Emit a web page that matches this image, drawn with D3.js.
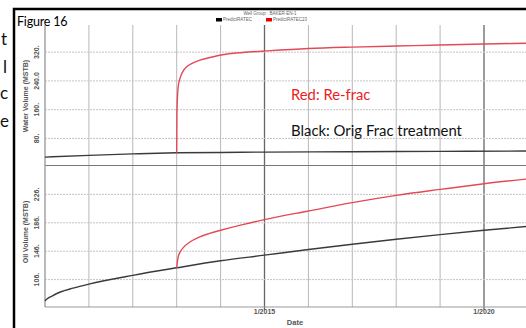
<!DOCTYPE html>
<html>
<head>
<meta charset="utf-8">
<script src="https://d3js.org/d3.v7.min.js"></script>
<style>
  body { margin: 0; background: #fff; }
  svg { display: block; }
</style>
</head>
<body>
<script>
var width = 526;
var height = 328;

// x grid, one line per year; the labelled ones are darker
var gridYears = [2010, 2011, 2012, 2013, 2014, 2015, 2016, 2017, 2018, 2019, 2020, 2021];
var dateTicks = [2015, 2020];
var dateLabels = ["1/2015", "1/2020"];

// water volume (MSTB)
var waterTicks = [80, 160, 240, 320];
var waterLabels = ["80.", "160.", "240.0", "320."];
var waterOrigT = [2010, 2011, 2012, 2013, 2014, 2015, 2017, 2019, 2021.1];
var waterOrigV = [28, 33, 37, 40, 41, 42, 43, 44, 45];
var waterRefracT = [2013, 2013.004, 2013.014, 2013.03, 2013.075, 2013.145, 2013.235, 2013.35, 2013.53, 2013.76, 2014.01, 2014.5, 2015, 2016, 2017, 2018, 2019, 2020, 2021.1];
var waterRefracV = [40, 140, 186, 220, 247, 267, 280, 289, 298, 305, 312, 319, 323, 330, 334, 337, 340, 342.5, 345];

// oil volume (MSTB)
var oilTicks = [106, 146, 186, 226];
var oilLabels = ["106.", "146.", "186.", "226."];
var oilOrigT = [2010, 2010.05, 2010.15, 2010.35, 2010.64, 2011, 2012, 2013, 2014, 2015, 2016, 2017, 2018, 2019, 2020, 2021.1];
var oilOrigV = [76, 79, 82.5, 88.5, 94, 99.7, 112, 122.6, 132.5, 140.4, 148.4, 155.8, 162.8, 169.4, 175.5, 181.5];
var oilRefracT = [2013, 2013.03, 2013.07, 2013.15, 2013.3, 2013.5, 2013.75, 2014, 2014.5, 2015, 2016, 2017, 2018, 2019, 2020, 2021.1];
var oilRefracV = [122.6, 137, 144, 151, 159, 165.5, 171, 175.5, 183.5, 190.5, 202.6, 214.4, 224.6, 233, 241, 248.5];

var left = 45, plotTop = 25, split = 165.5, bottom = 307;
var black = "#3a3a3a", red = "#e34a58";

var svg = d3.select("body").append("svg")
  .attr("width", width)
  .attr("height", height);

var x = d3.scaleLinear().domain([2010, 2021.1]).range([left, left + 11.1 * 43.9]);
var yWater = d3.scaleLinear().domain([4.7, 395.5]).range([split, plotTop]);
var yOil = d3.scaleLinear().domain([67.4, 266.7]).range([bottom, split]);

// vertical grid
svg.selectAll(".vgrid")
  .data(gridYears)
  .enter().append("line")
  .attr("x1", d => x(d)).attr("x2", d => x(d))
  .attr("y1", plotTop).attr("y2", d => dateTicks.indexOf(d) >= 0 ? bottom + 3 : bottom)
  .attr("stroke", d => dateTicks.indexOf(d) >= 0 ? "#666" : "#b8b8b8")
  .attr("stroke-width", d => dateTicks.indexOf(d) >= 0 ? 1.3 : 1);

// horizontal grid, dotted
function hgrid(ticks, y) {
  svg.append("g").selectAll("line")
    .data(ticks)
    .enter().append("line")
    .attr("x1", left).attr("x2", width)
    .attr("y1", d => y(d)).attr("y2", d => y(d))
    .attr("stroke", "#c4c4c4")
    .attr("stroke-dasharray", "2,1");
}
hgrid(waterTicks, yWater);
hgrid(oilTicks, yOil);

// panel frame lines
svg.append("line").attr("x1", left).attr("x2", width).attr("y1", split).attr("y2", split)
  .attr("stroke", "#777").attr("stroke-width", 1.2);
svg.append("line").attr("x1", left).attr("x2", width).attr("y1", bottom).attr("y2", bottom)
  .attr("stroke", "#999");
svg.append("line").attr("x1", left).attr("x2", left).attr("y1", plotTop).attr("y2", bottom)
  .attr("stroke", "#999");

function drawSeries(ts, vs, y, colour) {
  var pts = ts.map((t, i) => [t, vs[i]]);
  var line = d3.line()
    .x(d => x(d[0]))
    .y(d => y(d[1]))
    .curve(d3.curveMonotoneX);
  svg.append("path")
    .datum(pts)
    .attr("d", line)
    .attr("fill", "none")
    .attr("stroke", colour)
    .attr("stroke-width", 1.4);
}
drawSeries(waterOrigT, waterOrigV, yWater, black);
drawSeries(oilOrigT, oilOrigV, yOil, black);
drawSeries(waterRefracT, waterRefracV, yWater, red);
drawSeries(oilRefracT, oilRefracV, yOil, red);

// y tick labels, rotated
function yLabels(ticks, labels, y) {
  svg.append("g").selectAll("text")
    .data(ticks)
    .enter().append("text")
    .attr("transform", d => "translate(39," + y(d) + ") rotate(-90)")
    .attr("text-anchor", "middle")
    .attr("font-family", "Liberation Sans, Arial, sans-serif")
    .attr("font-size", 7)
    .attr("font-weight", "bold")
    .attr("fill", "#555")
    .text((d, i) => labels[i]);
}
yLabels(waterTicks, waterLabels, yWater);
yLabels(oilTicks, oilLabels, yOil);

svg.append("text")
  .attr("transform", "translate(28,96) rotate(-90)")
  .attr("text-anchor", "middle")
  .attr("font-family", "Liberation Sans, Arial, sans-serif")
  .attr("font-size", 7).attr("font-weight", "bold").attr("fill", "#555")
  .text("Water Volume (MSTB)");
svg.append("text")
  .attr("transform", "translate(28,232) rotate(-90)")
  .attr("text-anchor", "middle")
  .attr("font-family", "Liberation Sans, Arial, sans-serif")
  .attr("font-size", 7).attr("font-weight", "bold").attr("fill", "#555")
  .text("Oil Volume (MSTB)");

// x labels
svg.append("g").selectAll("text")
  .data(dateTicks)
  .enter().append("text")
  .attr("x", d => x(d)).attr("y", 314)
  .attr("text-anchor", "middle")
  .attr("font-family", "Liberation Sans, Arial, sans-serif")
  .attr("font-size", 7).attr("font-weight", "bold").attr("fill", "#555")
  .text((d, i) => dateLabels[i]);
svg.append("text")
  .attr("x", 295).attr("y", 325)
  .attr("text-anchor", "middle")
  .attr("font-family", "Liberation Sans, Arial, sans-serif")
  .attr("font-size", 7.5).attr("font-weight", "bold").attr("fill", "#555")
  .text("Date");

// tiny title + legend
svg.append("text")
  .attr("x", 270).attr("y", 15)
  .attr("text-anchor", "middle")
  .attr("font-family", "Liberation Sans, Arial, sans-serif")
  .attr("font-size", 4.5).attr("fill", "#666")
  .text("Well Group : BAKER-EN-1");
var legend = [{name: "PredictRATEC", colour: "#000", x: 216}, {name: "PredictRATEC23", colour: "#e00", x: 266}];
var lg = svg.append("g").selectAll("g").data(legend).enter().append("g");
lg.append("rect").attr("x", d => d.x).attr("y", 18).attr("width", 6).attr("height", 3.5)
  .attr("fill", d => d.colour);
lg.append("text").attr("x", d => d.x + 7).attr("y", 21.3)
  .attr("font-family", "Liberation Sans, Arial, sans-serif")
  .attr("font-size", 4.5).attr("fill", "#666")
  .text(d => d.name);

// annotations
svg.append("text")
  .attr("x", 291).attr("y", 99.5)
  .attr("font-family", "Lato, sans-serif")
  .attr("font-size", 14.8).attr("fill", "#ee1c1c")
  .text("Red: Re-frac");
svg.append("text")
  .attr("x", 291).attr("y", 136)
  .attr("font-family", "Lato, sans-serif")
  .attr("font-size", 14.9).attr("fill", "#111")
  .text("Black: Orig Frac treatment");

// outer frame and figure label
svg.append("rect")
  .attr("x", 14).attr("y", 9)
  .attr("width", 530).attr("height", 340)
  .attr("fill", "none").attr("stroke", "#000").attr("stroke-width", 2.5);
svg.append("text")
  .attr("x", 17).attr("y", 26)
  .attr("font-family", "Lato, sans-serif")
  .attr("font-size", 12.5).attr("letter-spacing", -0.2).attr("fill", "#000")
  .text("Figure 16");

// slide text peeking in at the very left edge
var edgeBits = ["t", "l", "c", "e"];
var edgeX = [1, 3, 0, 0];
var edgeY = [45, 73, 99, 127];
svg.append("g").selectAll("text")
  .data(edgeBits)
  .enter().append("text")
  .attr("x", (d, i) => edgeX[i]).attr("y", (d, i) => edgeY[i])
  .attr("font-family", "Lato, sans-serif")
  .attr("font-size", 17).attr("fill", "#111")
  .text(d => d);
</script>
</body>
</html>
